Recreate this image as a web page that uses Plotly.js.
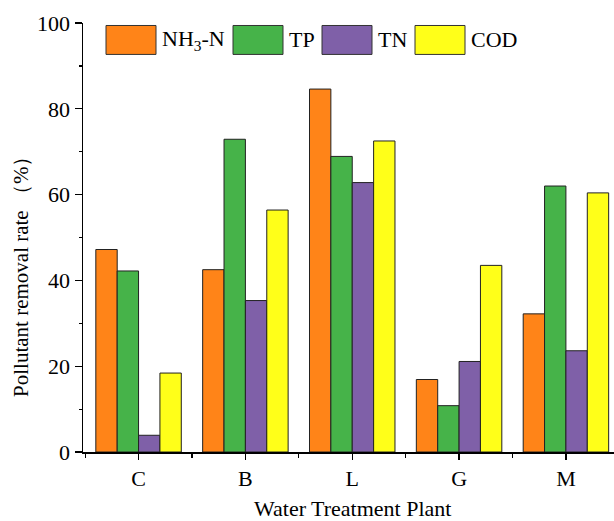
<!DOCTYPE html>
<html>
<head>
<meta charset="utf-8">
<script src="https://cdn.plot.ly/plotly-3.0.1.min.js"></script>
<style>html,body{margin:0;padding:0;background:#fff;} #chart{width:614px;height:521px;}</style>
</head>
<body>
<div id="chart"></div>
<script>
const categories = ["C", "B", "L", "G", "M"];
const seriesNames = ["NH<sub>3</sub>-N", "TP", "TN", "COD"];
const nh3n = [47.2, 42.5, 84.6, 16.9, 32.2];
const tp   = [42.2, 72.9, 68.9, 10.8, 62.0];
const tn   = [3.9, 35.3, 62.8, 21.1, 23.6];
const cod  = [18.4, 56.4, 72.5, 43.5, 60.4];
const yTicks = [0, 20, 40, 60, 80, 100];
const colors = ["#FF8418", "#46B349", "#7F60A8", "#FFFF19"];

const W = 614, H = 521;
const M = {l: 83, r: 0, t: 22.5, b: 68.5};
const pw = W - M.l - M.r, ph = H - M.t - M.b;
const px = x => (x - M.l) / pw;
const py = y => (H - M.b - y) / ph;

const xs = categories.map((c, i) => i);
const seriesVals = [nh3n, tp, tn, cod];
const traces = seriesVals.map((v, k) => ({
  type: "bar", x: xs, y: v, name: seriesNames[k],
  marker: {color: colors[k], line: {color: "#222", width: 1}},
  showlegend: false, hoverinfo: "skip"
}));

const font = "'Liberation Serif', 'Times New Roman', serif";
// manual legend
const legBoxes = [[106, 156], [233, 283], [322, 372], [415, 465]];
const legText = [160, 287, 376, 469];
const shapes = [], annotations = [];
legBoxes.forEach((b, k) => {
  shapes.push({type: "rect", xref: "paper", yref: "paper",
    x0: px(b[0]), x1: px(b[1]), y0: py(54), y1: py(25),
    fillcolor: colors[k], line: {color: "#333", width: 1}});
  annotations.push({xref: "paper", yref: "paper", x: px(legText[k]), y: py(39.5),
    xanchor: "left", yanchor: "middle", showarrow: false,
    text: seriesNames[k], font: {family: font, size: 22, color: "#000"}});
});
annotations.push({xref: "paper", yref: "paper", x: px(21), y: py(272),
  xanchor: "center", yanchor: "middle", showarrow: false, textangle: -90,
  text: "Pollutant removal rate （%）", font: {family: font, size: 21, color: "#000"}});
annotations.push({xref: "paper", yref: "paper", x: px(352), y: py(509),
  xanchor: "center", yanchor: "middle", showarrow: false, borderpad: 0,
  text: "Water Treatment Plant", font: {family: font, size: 22, color: "#000"}});

const layout = {
  width: W, height: H, margin: M,
  paper_bgcolor: "#fff", plot_bgcolor: "#fff",
  barmode: "group", bargap: 0.2, bargroupgap: 0,
  font: {family: font, size: 22, color: "#000"},
  xaxis: {
    range: [-0.52, 4.45], tickvals: xs, ticktext: categories,
    tickfont: {family: font, size: 22, color: "#000"},
    showline: true, linecolor: "#000", linewidth: 1.5,
    ticks: "outside", ticklen: 6, tickwidth: 1.2, tickcolor: "#000",
    showgrid: false, zeroline: false,
    minor: {tickvals: [-0.5, 0.5, 1.5, 2.5, 3.5], ticks: "outside", ticklen: 4, tickcolor: "#000", tickwidth: 1.2, showgrid: false},
    fixedrange: true
  },
  yaxis: {
    range: [0, 100], tickvals: yTicks,
    tickfont: {family: font, size: 22, color: "#000"},
    showline: true, linecolor: "#000", linewidth: 1.5,
    ticks: "outside", ticklen: 7, tickwidth: 1.2, tickcolor: "#000",
    showgrid: false, zeroline: false,
    minor: {tickvals: [10, 30, 50, 70, 90], ticks: "outside", ticklen: 3, tickcolor: "#000", tickwidth: 1.2, showgrid: false},
    fixedrange: true
  },
  shapes: shapes, annotations: annotations
};
Plotly.newPlot("chart", traces, layout, {displayModeBar: false, staticPlot: true});
</script>
</body>
</html>
